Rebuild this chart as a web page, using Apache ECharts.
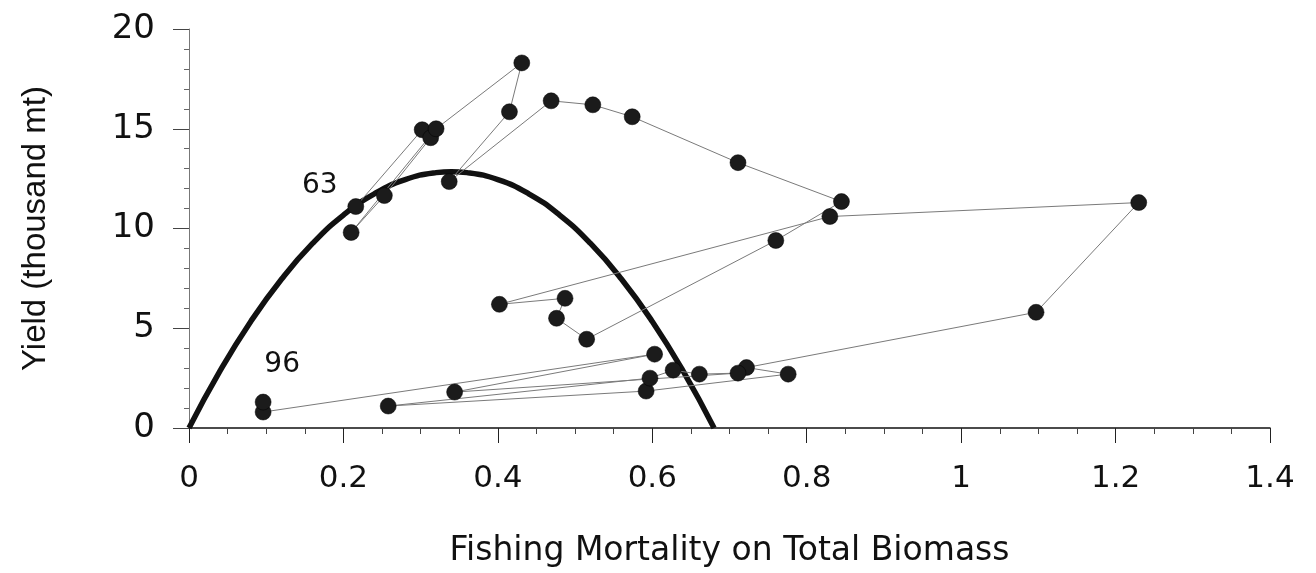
<!DOCTYPE html>
<html>
<head>
<meta charset="utf-8">
<title>Yield vs Fishing Mortality</title>
<script src="https://cdn.jsdelivr.net/npm/echarts@6/dist/echarts.min.js"></script>
<style>
  html, body { margin: 0; padding: 0; background: #fff; }
  #chart { width: 1316px; height: 573px; }
</style>
</head>
<body>
<div id="chart"></div>
<script>
// Annual observations, 1963-1996, in time order
const years = [63, 64, 65, 66, 67, 68, 69, 70, 71, 72, 73, 74, 75, 76, 77, 78, 79,
               80, 81, 82, 83, 84, 85, 86, 87, 88, 89, 90, 91, 92, 93, 94, 95, 96];
const fishingMortality = [0.216, 0.302, 0.313, 0.253, 0.210, 0.320, 0.431, 0.415, 0.337,
                          0.469, 0.523, 0.574, 0.711, 0.845, 0.760, 0.515, 0.476, 0.487,
                          0.402, 0.830, 1.230, 1.097, 0.722, 0.776, 0.592, 0.258, 0.597,
                          0.627, 0.661, 0.711, 0.344, 0.603, 0.096, 0.096];
const yieldKt = [11.1, 14.95, 14.55, 11.65, 9.8, 15.0, 18.3, 15.85, 12.35,
                 16.4, 16.2, 15.6, 13.3, 11.35, 9.4, 4.45, 5.5, 6.5,
                 6.2, 10.6, 11.3, 5.8, 3.03, 2.7, 1.85, 1.1, 2.5,
                 2.9, 2.7, 2.75, 1.8, 3.7, 0.8, 1.3];

// Equilibrium yield curve
const curveF = [0, 0.04, 0.08, 0.12, 0.16, 0.20, 0.24, 0.28, 0.32, 0.34,
                0.36, 0.40, 0.44, 0.48, 0.52, 0.56, 0.60, 0.64, 0.68];
const curveYield = [0, 2.85, 5.34, 7.47, 9.25, 10.67, 11.74, 12.45, 12.80, 12.85,
                    12.80, 12.45, 11.74, 10.67, 9.25, 7.47, 5.34, 2.85, 0];

// Axis ranges
const xRange = { min: 0, max: 1.4, interval: 0.2 };
const yRange = { min: 0, max: 20, interval: 5 };

// Year labels shown on the first and last points
const labelledYears = { 63: [-36, -21], 96: [19, -37] };

const wideFont = '"DejaVu Sans", Arial, sans-serif';
const narrowFont = '"Liberation Sans", Arial, Helvetica, sans-serif';

const pathData = years.map((yr, i) => {
  const item = { value: [fishingMortality[i], yieldKt[i]] };
  if (labelledYears[yr]) {
    item.label = {
      show: true,
      position: 'inside',
      offset: labelledYears[yr],
      formatter: String(yr),
      fontFamily: wideFont,
      fontSize: 28,
      color: '#111'
    };
  }
  return item;
});

const curveData = curveF.map((f, i) => [f, curveYield[i]]);

const chart = echarts.init(document.getElementById('chart'), null, { renderer: 'canvas' });

chart.setOption({
  backgroundColor: '#fff',
  animation: false,
  grid: { left: 189, right: 46, top: 29, bottom: 144 },
  xAxis: {
    type: 'value',
    min: xRange.min, max: xRange.max, interval: xRange.interval,
    name: 'Fishing Mortality on Total Biomass',
    nameLocation: 'middle',
    nameGap: 107,
    nameTextStyle: { fontFamily: wideFont, fontSize: 33, color: '#111', verticalAlign: 'top' },
    axisLine: { show: true, onZero: false, lineStyle: { color: '#111', width: 1.5 } },
    axisTick: { show: true, inside: false, length: 15, lineStyle: { color: '#222', width: 1 } },
    minorTick: { show: true, splitNumber: 4, length: 6, lineStyle: { color: '#444', width: 1 } },
    axisLabel: { fontFamily: wideFont, fontSize: 31, color: '#111', margin: 35 },
    splitLine: { show: false },
    minorSplitLine: { show: false }
  },
  yAxis: {
    type: 'value',
    min: yRange.min, max: yRange.max, interval: yRange.interval,
    name: 'Yield (thousand mt)',
    nameLocation: 'middle',
    nameGap: 137,
    nameTextStyle: { fontFamily: narrowFont, fontSize: 33, color: '#111' },
    axisLine: { show: true, onZero: false, lineStyle: { color: '#777', width: 1 } },
    axisTick: { show: true, inside: false, length: 16, lineStyle: { color: '#444', width: 1 } },
    minorTick: { show: true, splitNumber: 5, length: 5, lineStyle: { color: '#666', width: 1 } },
    axisLabel: { fontFamily: wideFont, fontSize: 34, color: '#111', margin: 34 },
    splitLine: { show: false },
    minorSplitLine: { show: false }
  },
  series: [
    {
      name: 'Equilibrium yield',
      type: 'line',
      data: curveData,
      smooth: true,
      showSymbol: false,
      lineStyle: { color: '#111', width: 5.5 },
      z: 2,
      silent: true
    },
    {
      name: 'Observed',
      type: 'line',
      data: pathData,
      smooth: false,
      symbol: 'circle',
      symbolSize: 16,
      showAllSymbol: true,
      itemStyle: { color: '#1b1b1b', borderColor: '#000', borderWidth: 0.5 },
      lineStyle: { color: '#7a7a7a', width: 1 },
      label: { show: false },
      z: 3
    }
  ]
});
</script>
</body>
</html>
